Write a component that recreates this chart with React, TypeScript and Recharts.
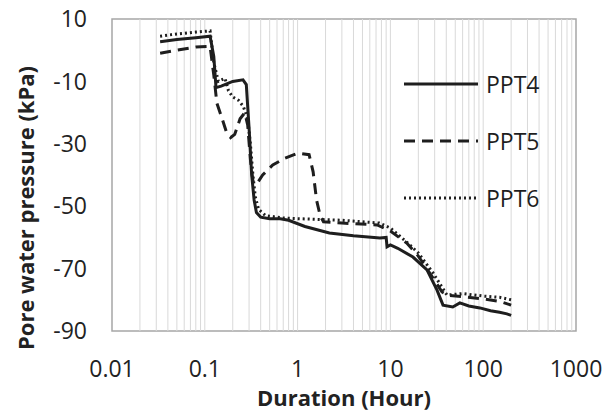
import { LineChart, Line, XAxis, YAxis, ReferenceLine, ReferenceArea, Label } from "recharts";

const xTicks = [0.01, 0.1, 1, 10, 100, 1000];
const yTicks = [-90, -70, -50, -30, -10, 10];
const gridX = [
  0.02, 0.03, 0.04, 0.05, 0.06, 0.07, 0.08, 0.09,
  0.1, 0.2, 0.3, 0.4, 0.5, 0.6, 0.7, 0.8, 0.9,
  1, 2, 3, 4, 5, 6, 7, 8, 9,
  10, 20, 30, 40, 50, 60, 70, 80, 90,
  100, 200, 300, 400, 500, 600, 700, 800, 900,
];

const ppt4 = [
  { x: 0.033, y: 2.7 }, { x: 0.05, y: 3.4 }, { x: 0.08, y: 4.0 }, { x: 0.114, y: 4.5 },
  { x: 0.125, y: -2 }, { x: 0.132, y: -12 }, { x: 0.15, y: -11.5 }, { x: 0.2, y: -10 },
  { x: 0.258, y: -9.5 }, { x: 0.28, y: -11 }, { x: 0.3, y: -25 }, { x: 0.32, y: -40 },
  { x: 0.34, y: -48 }, { x: 0.36, y: -52 }, { x: 0.4, y: -53.5 }, { x: 0.5, y: -54 },
  { x: 0.65, y: -54 }, { x: 0.8, y: -54.5 }, { x: 1.2, y: -56.5 }, { x: 2.2, y: -58.6 },
  { x: 4, y: -59.5 }, { x: 7.7, y: -60.2 }, { x: 9.0, y: -60 }, { x: 9.2, y: -63 },
  { x: 10, y: -62.4 }, { x: 12, y: -63.5 }, { x: 17.5, y: -66.3 }, { x: 24.8, y: -70.4 },
  { x: 31.8, y: -76.9 }, { x: 36.9, y: -81.7 }, { x: 47, y: -82.3 }, { x: 56, y: -81 },
  { x: 70, y: -82 }, { x: 92, y: -82.6 }, { x: 120, y: -83.5 }, { x: 150, y: -84 },
  { x: 180, y: -84.5 }, { x: 200, y: -85 },
];

const ppt5 = [
  { x: 0.033, y: -1 }, { x: 0.05, y: 0 }, { x: 0.08, y: 1 }, { x: 0.114, y: 1.2 },
  { x: 0.125, y: -8 }, { x: 0.135, y: -17 }, { x: 0.15, y: -21 }, { x: 0.17, y: -26 },
  { x: 0.19, y: -28 }, { x: 0.21, y: -27 }, { x: 0.24, y: -22 }, { x: 0.27, y: -20 },
  { x: 0.29, y: -24 }, { x: 0.31, y: -35 }, { x: 0.33, y: -42 }, { x: 0.36, y: -43 },
  { x: 0.42, y: -40 }, { x: 0.54, y: -36.8 }, { x: 0.73, y: -34.6 }, { x: 1.0, y: -33 },
  { x: 1.33, y: -33.5 }, { x: 1.47, y: -39 }, { x: 1.6, y: -48 }, { x: 1.75, y: -53 },
  { x: 1.9, y: -55 }, { x: 3, y: -55.4 }, { x: 7.2, y: -56 }, { x: 10, y: -58 },
  { x: 15, y: -61.8 }, { x: 20, y: -66 }, { x: 28.8, y: -73 }, { x: 36, y: -77.5 },
  { x: 41, y: -78.5 }, { x: 60, y: -79 }, { x: 100, y: -79.7 }, { x: 150, y: -80.5 },
  { x: 200, y: -81.7 },
];

const ppt6 = [
  { x: 0.033, y: 4.5 }, { x: 0.05, y: 5.2 }, { x: 0.08, y: 5.8 }, { x: 0.114, y: 6.2 },
  { x: 0.125, y: -4 }, { x: 0.14, y: -10 }, { x: 0.165, y: -9 }, { x: 0.18, y: -13 },
  { x: 0.2, y: -15 }, { x: 0.23, y: -16 }, { x: 0.26, y: -18 }, { x: 0.29, y: -22 },
  { x: 0.31, y: -30 }, { x: 0.33, y: -40 }, { x: 0.35, y: -47 }, { x: 0.38, y: -51 },
  { x: 0.45, y: -53 }, { x: 0.7, y: -53.8 }, { x: 1, y: -54 }, { x: 3, y: -54.5 },
  { x: 7.6, y: -55.4 }, { x: 10, y: -57 }, { x: 15, y: -61.5 }, { x: 20, y: -65 },
  { x: 28.8, y: -71.4 }, { x: 40.7, y: -78.5 }, { x: 60, y: -78 }, { x: 100, y: -78.8 },
  { x: 150, y: -79.2 }, { x: 200, y: -80 },
];

const series = [
  { name: "PPT4", data: ppt4, dash: undefined as string | undefined },
  { name: "PPT5", data: ppt5, dash: "11 7" },
  { name: "PPT6", data: ppt6, dash: "2 3" },
];

const font = "'Open Sans', sans-serif";
const ink = "#1e1e1e";

// y title: rotated, placed left of the tick labels
function YTitle(props: any) {
  const vb = props.viewBox || {};
  const cx = 25;
  const cy = vb.y + vb.height / 2 + 33;
  return (
    <text
      x={cx}
      y={cy}
      transform={`rotate(-90 ${cx} ${cy})`}
      textAnchor="middle"
      dominantBaseline="central"
      style={{ fill: "#222", fontSize: 22, fontWeight: 700, fontFamily: font }}
    >
      Pore water pressure (kPa)
    </text>
  );
}

export default function App() {
  return (
    <div style={{ position: "absolute", left: 0, top: 0, width: 615, height: 413, background: "#fff" }}>
      <LineChart width={615} height={413} margin={{ top: 19, right: 39, left: 22, bottom: 22 }}>
        <XAxis
          type="number"
          dataKey="x"
          scale="log"
          domain={[0.01, 1000]}
          ticks={xTicks}
          allowDataOverflow
          axisLine={false}
          tickLine={false}
          tickMargin={24}
          height={60}
          tick={{ fill: "#222", fontSize: 23, fontFamily: font }}
          tickFormatter={(v) => String(v)}
        >
          <Label
            value="Duration (Hour)"
            position="insideBottom"
            offset={-15}
            style={{ fill: "#222", fontSize: 22, fontWeight: 700, fontFamily: font }}
          />
        </XAxis>
        <YAxis
          type="number"
          dataKey="y"
          domain={[-90, 10]}
          ticks={yTicks}
          allowDataOverflow
          axisLine={false}
          tickLine={false}
          tickMargin={19}
          width={90}
          tick={{ fill: "#222", fontSize: 23, fontFamily: font }}
        >
          <Label content={YTitle} />
        </YAxis>
        {gridX.map((g) => (
          <ReferenceLine key={g} x={g} stroke="#d9d9d9" strokeWidth={1} />
        ))}
        <ReferenceArea x1={0.01} x2={1000} y1={-90} y2={10} fill="none" stroke="#a6a6a6" strokeWidth={1.5} />
        {series.map((s) => (
          <Line
            key={s.name}
            data={s.data}
            dataKey="y"
            name={s.name}
            type="linear"
            stroke={ink}
            strokeWidth={3}
            strokeDasharray={s.dash}
            dot={false}
            activeDot={false}
            isAnimationActive={false}
          />
        ))}
      </LineChart>
      <div style={{ position: "absolute", left: 400, top: 55, fontFamily: font }}>
        {series.map((s) => (
          <div key={s.name} style={{ display: "flex", alignItems: "center", height: 57 }}>
            <svg width={80} height={10}>
              <line x1={4} y1={5} x2={78} y2={5} stroke={ink} strokeWidth={3} strokeDasharray={s.dash} />
            </svg>
            <span style={{ fontSize: 23, color: ink, marginLeft: 6 }}>{s.name}</span>
          </div>
        ))}
      </div>
    </div>
  );
}
